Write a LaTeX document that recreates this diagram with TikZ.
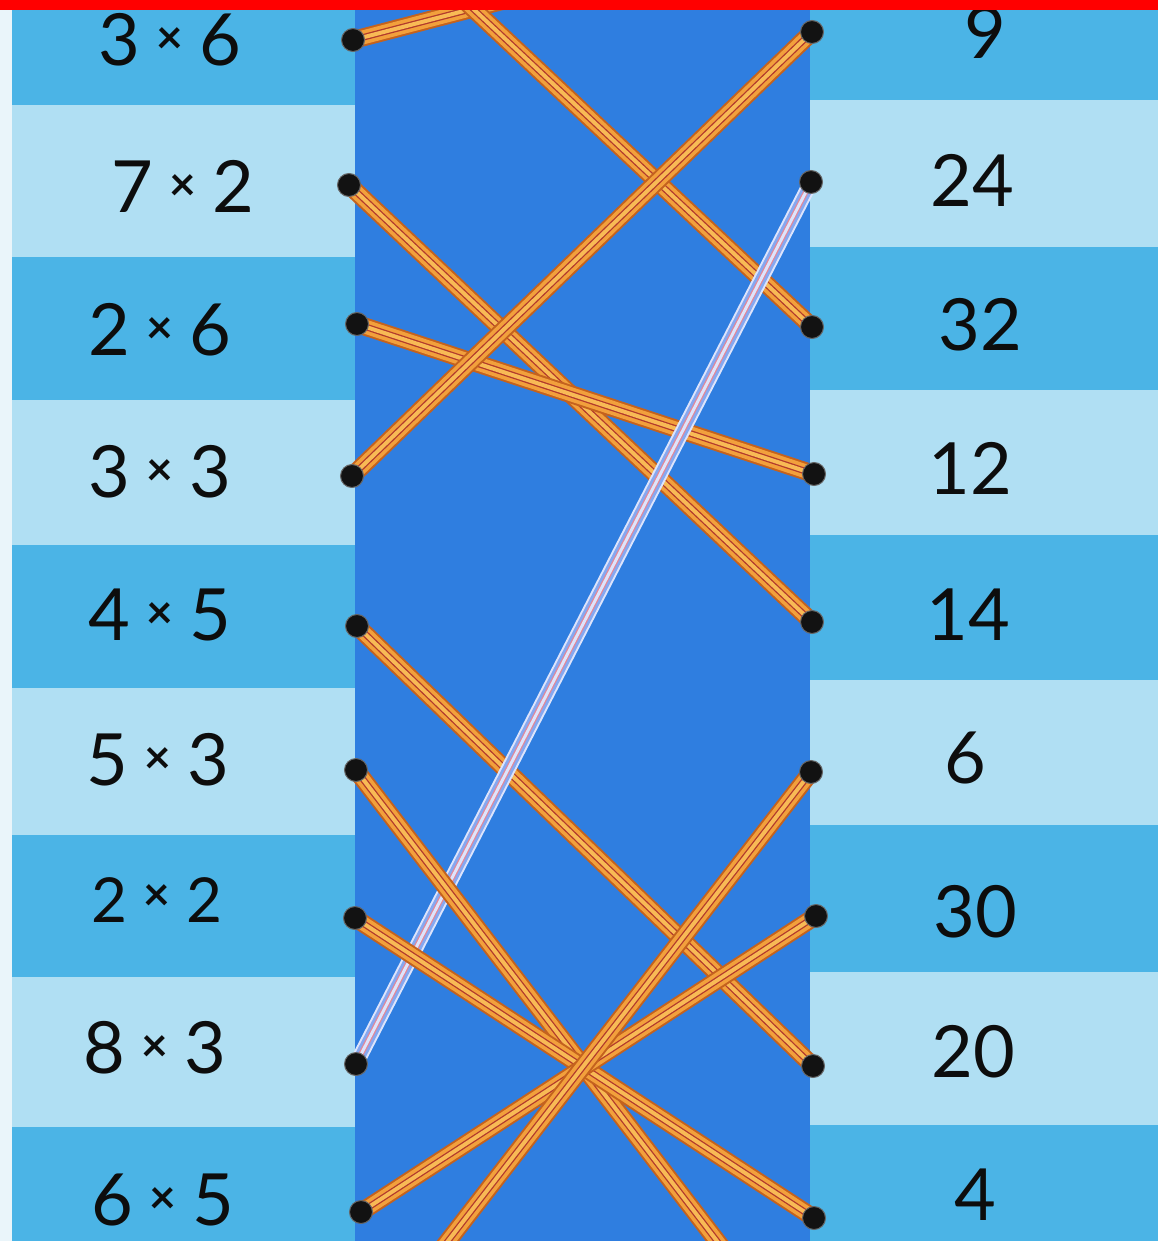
\documentclass[tikz,border=0pt]{standalone}
\usepackage{fontspec}
\setmainfont{Lato}
\pgfdeclarelayer{bgl}
\pgfdeclarelayer{strl}
\pgfsetlayers{bgl,strl,main}
\definecolor{midb}{HTML}{4BB4E6}
\definecolor{lightb}{HTML}{B0DFF3}
\definecolor{bandc}{HTML}{2F7EE0}
\definecolor{edgew}{HTML}{EAF5FA}
\definecolor{strA}{HTML}{C4621E}
\definecolor{strB}{HTML}{F2A03C}
\definecolor{strY}{HTML}{F8BA55}
\definecolor{strC}{HTML}{B23A2C}
\definecolor{lavA}{HTML}{DDE4FC}
\definecolor{lavB}{HTML}{86A8F0}
\definecolor{lavC}{HTML}{E58796}
\definecolor{pegc}{HTML}{121212}
\newcommand{\mx}[2]{#1\hspace{16pt}\raisebox{12pt}{\fontsize{46}{46}\selectfont\bfseries ×}\hspace{16pt}#2}
\tikzset{
  lbl/.style={inner sep=0pt, text=black!95, font=\fontsize{72}{72}\selectfont},
  peg/.style={circle, fill=pegc, draw=black!60, line width=1pt, minimum size=23pt, inner sep=0pt},
  strng/.style={line cap=round, line width=18pt, draw=strA,
    postaction={draw=strB, line width=14pt},
    postaction={draw=strC, line width=1.3pt, double=strY, double distance=4pt}},
  lav/.style={line cap=round, line width=15pt, draw=lavA,
    postaction={draw=lavB, line width=11pt},
    postaction={draw=lavC, line width=1.2pt, double=lavA, double distance=3pt}}
}
\begin{document}
\begin{tikzpicture}[x=1pt, y=-1pt]
\useasboundingbox (0,0) rectangle (1158,1241);
\begin{pgfonlayer}{bgl}
\fill[edgew] (0,0) rectangle (1158,1241);
% left stripes
\fill[midb] (12,10) rectangle (355,1241);
\foreach \a/\b in {105/257, 400/545, 688/835, 977/1127}
  \fill[lightb] (12,\a) rectangle (355,\b);
% right stripes
\fill[midb] (810,10) rectangle (1158,1241);
\foreach \a/\b in {100/247, 390/535, 680/825, 972/1125}
  \fill[lightb] (810,\a) rectangle (1158,\b);
% central band
\fill[bandc] (355,10) rectangle (810,1241);
\end{pgfonlayer}

% pegs
\node[peg] (L1) at (353,40) {};
\node[peg] (L2) at (349,185) {};
\node[peg] (L3) at (357,324) {};
\node[peg] (L4) at (352,476) {};
\node[peg] (L5) at (357,626) {};
\node[peg] (L6) at (356,770) {};
\node[peg] (L7) at (355,918) {};
\node[peg] (L8) at (356,1064) {};
\node[peg] (L9) at (361,1212) {};
\node[peg] (R1) at (812,32) {};
\node[peg] (R2) at (811,182) {};
\node[peg] (R3) at (812,327) {};
\node[peg] (R4) at (814,474) {};
\node[peg] (R5) at (812,622) {};
\node[peg] (R6) at (811,772) {};
\node[peg] (R7) at (816,916) {};
\node[peg] (R8) at (813,1066) {};
\node[peg] (R9) at (814,1218) {};
\coordinate (T18) at (812,-80);
\coordinate (T32) at (352,-105);
\coordinate (B15) at (812,1365);
\coordinate (B6) at (352,1365);

% strings
\begin{pgfonlayer}{strl}
\begin{scope}
\clip (0,10) rectangle (1158,1241);
\draw[strng] (L1.center) -- (T18);
\draw[strng] (T32) -- (R3.center);
\draw[strng] (L2.center) -- (R5.center);
\draw[strng] (L3.center) -- (R4.center);
\draw[strng] (L4.center) -- (R1.center);
\draw[strng] (L5.center) -- (R8.center);
\draw[lav] (L8.center) -- (R2.center);
\draw[strng] (L6.center) -- (B15);
\draw[strng] (L7.center) -- (R9.center);
\draw[strng] (L9.center) -- (R7.center);
\draw[strng] (R6.center) -- (B6);
\end{scope}
\end{pgfonlayer}

% left labels
\node[lbl] (q1) at (170,40) {\mx{3}{6}};
\node[lbl] (q2) at (183,186) {\mx{7}{2}};
\node[lbl] (q3) at (160,330) {\mx{2}{6}};
\node[lbl] (q4) at (160,472) {\mx{3}{3}};
\node[lbl] (q5) at (160,615) {\mx{4}{5}};
\node[lbl] (q6) at (158,760) {\mx{5}{3}};
\node[lbl, font=\fontsize{62}{62}\selectfont] (q7) at (157,900) {\mx{2}{2}};
\node[lbl] (q8) at (155,1048) {\mx{8}{3}};
\node[lbl] (q9) at (163,1200) {\mx{6}{5}};
% right labels
\node[lbl] (a1) at (985,32) {9};
\node[lbl] (a2) at (972,180) {24};
\node[lbl] (a3) at (980,325) {32};
\node[lbl] (a4) at (970,468) {12};
\node[lbl] (a5) at (968,615) {14};
\node[lbl] (a6) at (965,758) {6};
\node[lbl] (a7) at (975,912) {30};
\node[lbl] (a8) at (973,1052) {20};
\node[lbl] (a9) at (975,1195) {4};

% red top bar
\fill[red] (0,0) rectangle (1158,10);
\end{tikzpicture}
\end{document}
